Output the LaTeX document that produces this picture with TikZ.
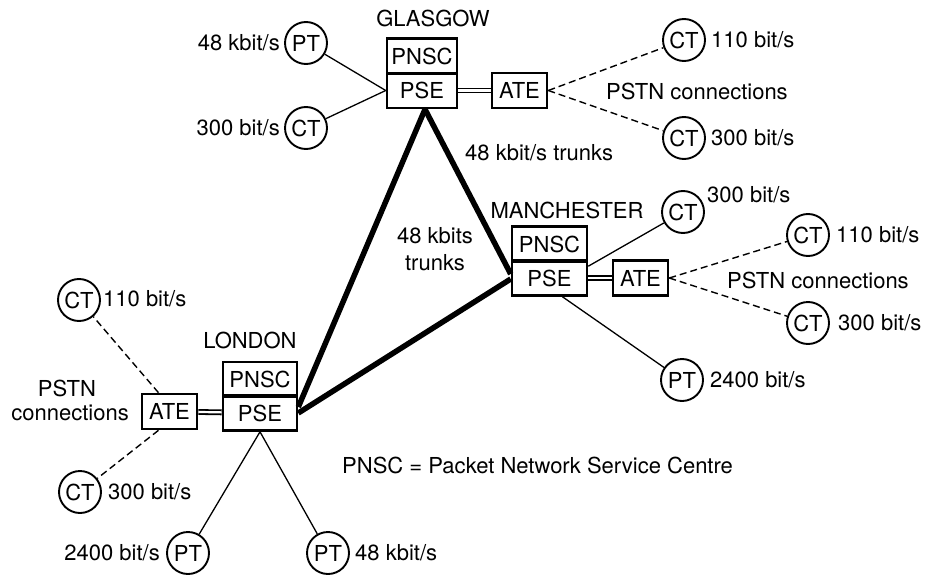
\documentclass[tikz,border=0pt]{standalone}
\usepackage{fontspec}
\setmainfont{TeX Gyre Heros}
\begin{document}
\begin{tikzpicture}[x=1pt,y=-1pt,
  every node/.style={font=\fontsize{22}{27}\selectfont, inner sep=0pt},
  unit/.style={draw, line width=2.6pt, minimum width=#1, minimum height=35pt},
  term/.style={draw, circle, line width=1.9pt, minimum size=42pt},
  tail/.style={line width=1.3pt},
  pstn/.style={line width=1.4pt, dash pattern=on 7pt off 4pt},
  trunk/.style={line width=5.5pt},
  link/.style={line width=1.8pt, double, double distance=2.2pt},
  lbl/.style={anchor=west},
  rlbl/.style={anchor=east}]
\useasboundingbox (0,0) rectangle (936,575);

% ---------- Glasgow ----------
\node (gname) at (433,18) {GLASGOW};
\node[unit=70pt] (gpnsc) at (422,56) {PNSC};
\node[unit=70pt] (gpse) at (422,90.5) {PSE};
\node[unit=55pt] (gate) at (519.5,90.5) {ATE};
\node[term] (gpt) at (306,43) {PT};
\node[term] (gct) at (306,128) {CT};
\node[term] (gct1) at (684,40) {CT};
\node[term] (gct2) at (684,138) {CT};
\node[rlbl] (gtpt) at (280,43) {48 kbit/s};
\node[rlbl] (gtct) at (280,128) {300 bit/s};
\node[lbl] (gtct1) at (711,40) {110 bit/s};
\node[lbl] (gtct2) at (711,138) {300 bit/s};
\node[lbl] (gpstn) at (606,91) {PSTN connections};
\draw[tail] (gpt) -- (gpse.west);
\draw[tail] (gct) -- (gpse.west);
\draw[link] (gpse) -- (gate);
\draw[pstn] (gate.east) -- (gct1);
\draw[pstn] (gate.east) -- (gct2);

% ---------- Manchester ----------
\node (mname) at (567,210) {MANCHESTER};
\node[unit=75pt] (mpnsc) at (549.5,244) {PNSC};
\node[unit=75pt] (mpse) at (549.5,278) {PSE};
\node[unit=55pt] (mate) at (640.5,278) {ATE};
\node[term] (mct0) at (683,212) {CT};
\node[term] (mct1) at (808,235) {CT};
\node[term] (mct2) at (808,323) {CT};
\node[term] (mpt) at (682,380) {PT};
\node[lbl] (mtct0) at (707,195) {300 bit/s};
\node[lbl] (mtct1) at (836,235) {110 bit/s};
\node[lbl] (mtct2) at (838,323) {300 bit/s};
\node[lbl] (mtpt) at (710,380) {2400 bit/s};
\node[lbl] (mpstn) at (727,280) {PSTN connections};
\draw[tail] ([yshift=-7pt]mpse.north east) -- (mct0);
\draw[tail] ([xshift=13pt]mpse.south) -- (mpt);
\draw[link] (mpse) -- (mate);
\draw[pstn] (mate.east) -- (mct1);
\draw[pstn] (mate.east) -- (mct2);

% ---------- London ----------
\node (lname) at (250,340) {LONDON};
\node[unit=74pt] (lpnsc) at (260,379.5) {PNSC};
\node[unit=74pt] (lpse) at (260,413) {PSE};
\node[unit=55pt] (late) at (169.5,411.5) {ATE};
\node[term] (lct1) at (79,300) {CT};
\node[term] (lct2) at (80,492) {CT};
\node[term] (lpt1) at (188,553) {PT};
\node[term] (lpt2) at (328,553) {PT};
\node[lbl] (ltct1) at (103,299) {110 bit/s};
\node[lbl] (ltct2) at (108,492) {300 bit/s};
\node[rlbl] (ltpt1) at (160,553) {2400 bit/s};
\node[lbl] (ltpt2) at (355,553) {48 kbit/s};
\node (lpstn1) at (67,388) {PSTN};
\node[rlbl] (lpstn2) at (129,413) {connections};
\draw[tail] (lpse.south) -- (lpt1);
\draw[tail] (lpse.south) -- (lpt2);
\draw[link] (late) -- (lpse);
\draw[pstn] ([xshift=-11pt]late.north) -- (lct1);
\draw[pstn] ([xshift=-11pt]late.south) -- (lct2);

% ---------- trunks ----------
\draw[trunk] ([xshift=3pt]gpse.south) -- ([yshift=4pt]mpse.west);
\draw[trunk] ([xshift=3pt]gpse.south) -- ([yshift=6pt]lpse.east);
\draw[trunk] (lpse.east) -- ([yshift=-1pt]mpse.west);
\node[lbl] (trk1) at (465,153) {48 kbit/s trunks};
\node[align=center] (trk2) at (435,249) {48 kbits\\trunks};

% ---------- key ----------
\node[lbl] (key) at (342,465) {PNSC = Packet Network Service Centre};
\end{tikzpicture}
\end{document}
